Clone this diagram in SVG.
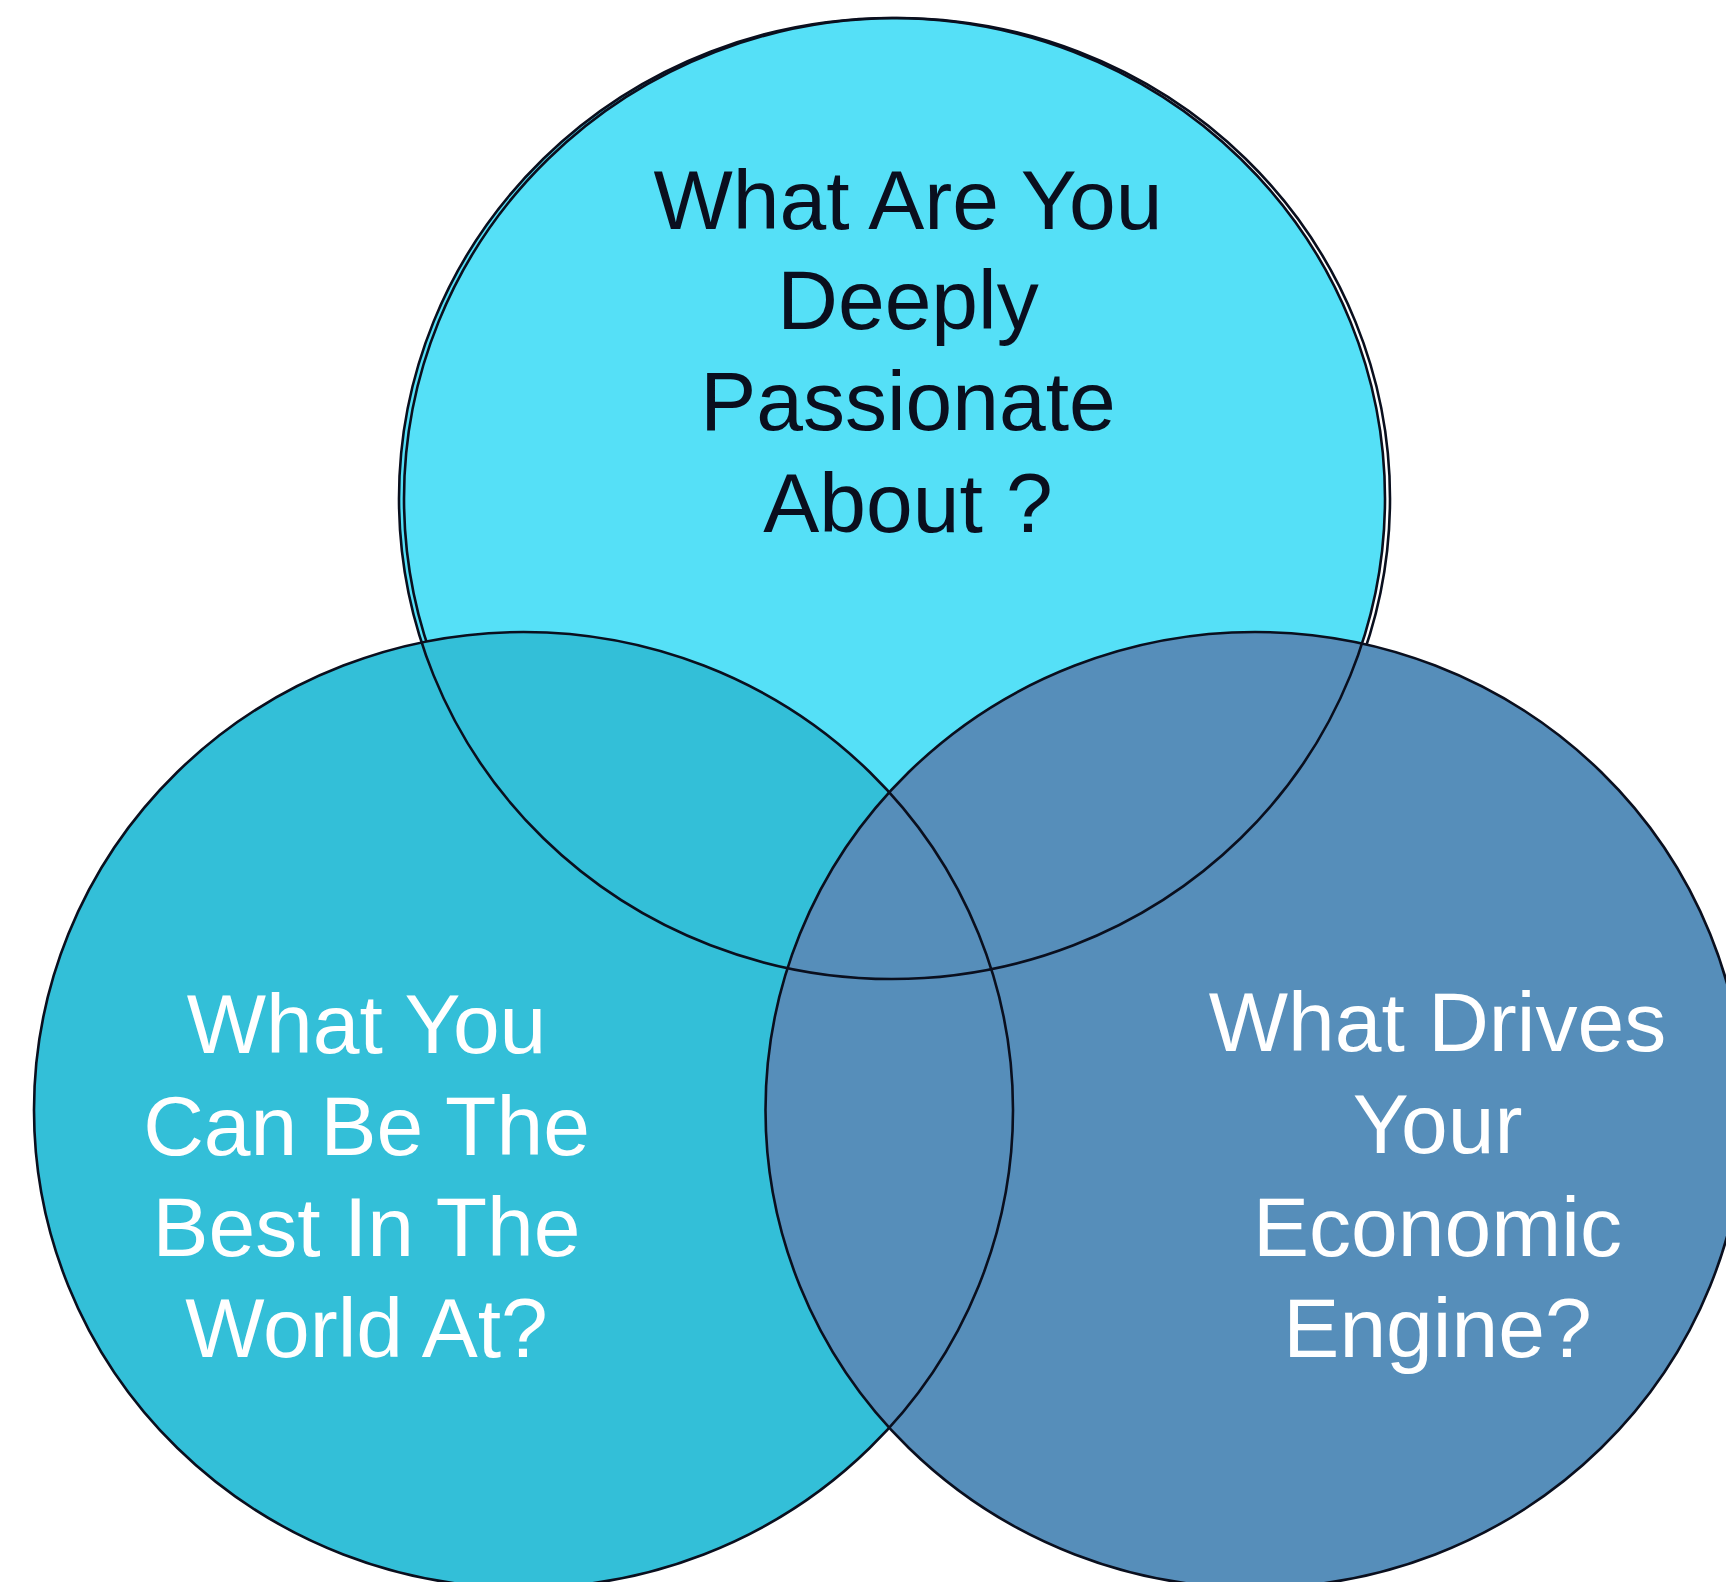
<svg xmlns="http://www.w3.org/2000/svg" width="1726" height="1582" viewBox="0 0 1726 1582">
  <style>
    .lbl { font-family: "Liberation Sans", Arial, sans-serif; font-size: 84px; text-anchor: middle; }
    .dark { fill: #0a0f1e; }
    .light { fill: #ffffff; }
    .outline { fill: none; stroke: #0a0f1e; stroke-width: 2.6; }
  </style>
  <rect width="1726" height="1582" fill="#ffffff"/>
  <g id="node-passion">
    <ellipse cx="892" cy="498.5" rx="493" ry="480.5" fill="#55e0f7"/>
    <ellipse cx="897" cy="498.5" rx="493" ry="480.5" class="outline"/>
    <text class="lbl dark" x="908" y="229">What Are You</text>
    <text class="lbl dark" x="908" y="329">Deeply</text>
    <text class="lbl dark" x="908" y="430">Passionate</text>
    <text class="lbl dark" x="908" y="532">About ?</text>
  </g>
  <g id="node-best">
    <ellipse cx="523.5" cy="1110" rx="489.5" ry="478" fill="#33bfd8"/>
    <text class="lbl light" x="366.5" y="1053">What You</text>
    <text class="lbl light" x="366.5" y="1155">Can Be The</text>
    <text class="lbl light" x="366.5" y="1256">Best In The</text>
    <text class="lbl light" x="366.5" y="1357">World At?</text>
  </g>
  <g id="node-economic">
    <ellipse cx="1255" cy="1110" rx="489.5" ry="478" fill="#568eba"/>
    <text class="lbl light" x="1437.5" y="1051">What Drives</text>
    <text class="lbl light" x="1437.5" y="1153">Your</text>
    <text class="lbl light" x="1437.5" y="1256">Economic</text>
    <text class="lbl light" x="1437.5" y="1357">Engine?</text>
  </g>
  <g id="connectors">
    <ellipse cx="892" cy="498.5" rx="493" ry="480.5" class="outline"/>
    <ellipse cx="523.5" cy="1110" rx="489.5" ry="478" class="outline"/>
    <ellipse cx="1255" cy="1110" rx="489.5" ry="478" class="outline"/>
  </g>
</svg>
